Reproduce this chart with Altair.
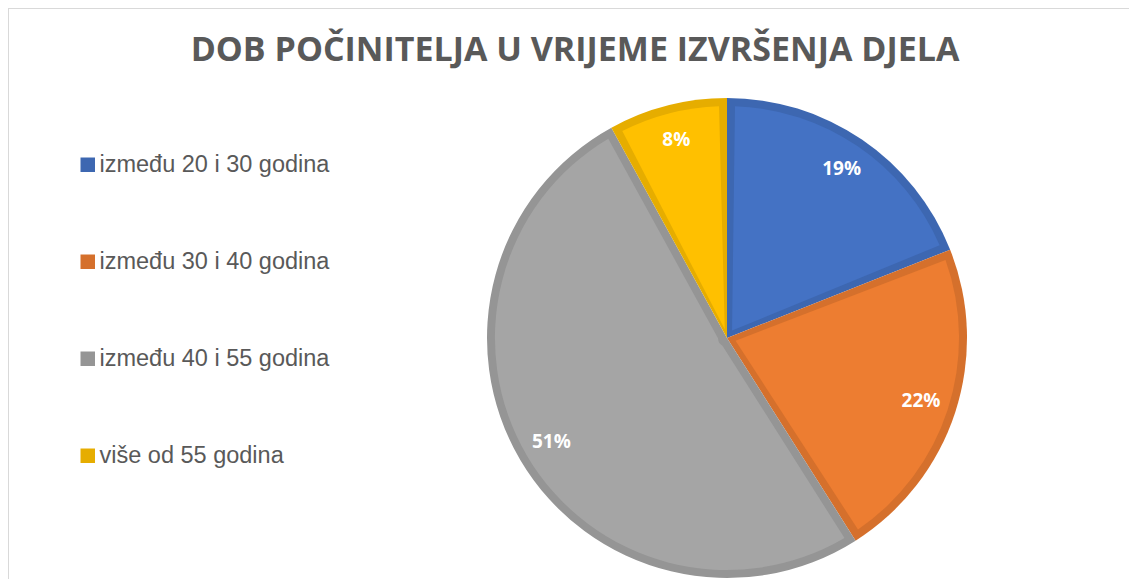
import altair as alt
import pandas as pd

title_text = "DOB POČINITELJA U VRIJEME IZVRŠENJA DJELA"
categories = ["između 20 i 30 godina", "između 30 i 40 godina", "između 40 i 55 godina", "više od 55 godina"]
values = [19, 22, 51, 8]
labels = ["19%", "22%", "51%", "8%"]
fill_colors = ["#4472C4", "#ED7D31", "#A5A5A5", "#FFC000"]
border_colors = ["#3D67B1", "#D5702C", "#959595", "#E6AD00"]

df = pd.DataFrame({
    "cat": categories,
    "value": values,
    "label": labels,
    "idx": list(range(len(categories))),
    "light": fill_colors,
})

W, H = 1121, 571
CX, CY = 719, 330

base = alt.Chart(df).encode(
    theta=alt.Theta("value:Q", stack=True),
    order=alt.Order("idx:Q"),
)

dark = base.mark_arc(outerRadius=240, x=CX, y=CY).encode(
    color=alt.Color(
        "cat:N",
        sort=categories,
        scale=alt.Scale(domain=categories, range=border_colors),
        legend=alt.Legend(
            orient="none", legendX=68, legendY=145, title=None,
            symbolType="square", symbolSize=210, symbolStrokeWidth=0,
            labelFontSize=23.5, labelFont="Liberation Sans", labelColor="#595959",
            rowPadding=72, labelOffset=0, labelLimit=400,
        ),
    )
)

light = base.mark_arc(outerRadius=232, innerRadius=9, padAngle=0.0689, x=CX, y=CY).encode(
    fill=alt.Fill("light:N", scale=None)
)

text = base.mark_text(
    radius=204, x=CX, y=CY, font="Open Sans", fontWeight="bold", fontSize=19, color="white"
).encode(text="label:N")

title = alt.Chart(pd.DataFrame({"t": [title_text]})).mark_text(
    font="Open Sans", fontWeight="bold", fontSize=34, color="#595959", align="center", baseline="middle"
).encode(text="t:N", x=alt.value(567), y=alt.value(43))

border = alt.Chart(pd.DataFrame({"t": [0]})).mark_rule(color="#D9D9D9", strokeWidth=2).encode(
    x=alt.value(0), x2=alt.value(W), y=alt.value(0)
)
border_left = alt.Chart(pd.DataFrame({"t": [0]})).mark_rule(color="#D9D9D9", strokeWidth=2).encode(
    x=alt.value(0), y=alt.value(0), y2=alt.value(H)
)

chart = alt.layer(dark, light, text, title, border, border_left).properties(
    width=W, height=H, padding=0, autosize=alt.AutoSizeParams(type="none")
).configure_view(stroke=None)

chart.save("out.html", embed_options={"renderer": "svg", "actions": False})
